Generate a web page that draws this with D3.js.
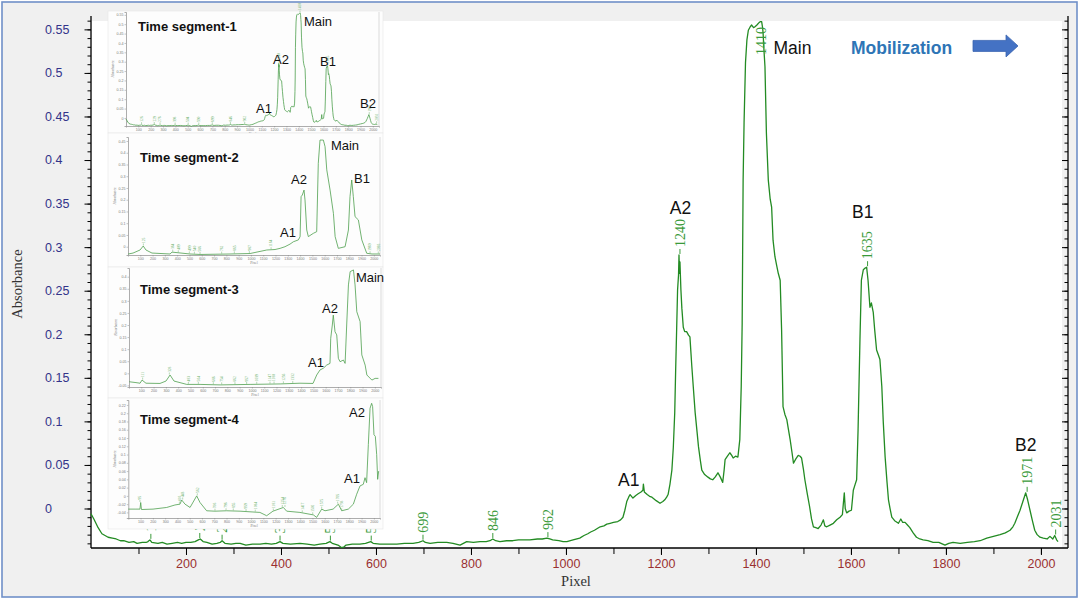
<!DOCTYPE html>
<html><head><meta charset="utf-8">
<script src="https://cdn.jsdelivr.net/npm/d3@7/dist/d3.min.js"></script>
<style>html,body{margin:0;padding:0;background:#fff;} svg{display:block}</style>
</head><body>
<svg id="chart" width="1080" height="600"></svg>
<script>
// ---------------- DATA ----------------
const mainPixel = [0,6,15,23,36,45,53,62,69,80,90,97,108,116,120,124,128,141,150,160,171,182,191,200,210,219,226,230,236,244,255,265,272,276,282,295,305,314,326,340,356,368,380,390,398,404,420,440,455,470,482,495,503,508,520,528,533,537,550,566,578,589,594,608,625,644,660,678,690,699,704,714,730,749,762,777,784,791,805,819,832,840,846,852,861,875,888,900,912,924,940,950,960,966,972,985,994,1002,1015,1029,1038,1046,1052,1060,1066,1072,1080,1086,1093,1100,1109,1115,1120,1124,1128,1132,1135,1141,1147,1152,1158,1162,1163,1165,1171,1176,1181,1190,1198,1204,1208,1212,1215,1219,1223,1226,1229,1231,1233,1235,1237,1238,1239,1240,1242,1244,1247,1250,1254,1258,1261,1263,1265,1268,1272,1276,1279,1283,1286,1292,1299,1304,1309,1314,1320,1325,1330,1333,1335,1340,1345,1349,1352,1357,1362,1366,1369,1371,1373,1375,1378,1381,1384,1388,1391,1395,1398,1402,1407,1410,1412,1414,1415,1417,1419,1422,1426,1430,1433,1436,1440,1444,1447,1451,1454,1457,1461,1465,1468,1472,1476,1479,1484,1489,1493,1496,1500,1503,1508,1513,1517,1521,1526,1531,1537,1542,1545,1549,1556,1563,1570,1577,1582,1586,1588,1591,1596,1601,1605,1609,1612,1615,1619,1622,1626,1630,1633,1636,1640,1643,1647,1650,1654,1658,1661,1665,1668,1672,1676,1679,1683,1686,1692,1700,1705,1709,1714,1719,1724,1731,1738,1745,1752,1762,1773,1785,1798,1806,1815,1830,1845,1860,1872,1886,1900,1914,1925,1935,1941,1945,1950,1956,1962,1968,1972,1977,1982,1987,1992,1998,2005,2013,2019,2025,2029,2033,2036];
const mainAbs = [-0.006,-0.012,-0.022,-0.029,-0.033,-0.034,-0.035,-0.037,-0.037,-0.039,-0.038,-0.040,-0.039,-0.039,-0.038,-0.036,-0.039,-0.040,-0.039,-0.041,-0.040,-0.039,-0.040,-0.039,-0.039,-0.038,-0.036,-0.035,-0.038,-0.039,-0.041,-0.040,-0.039,-0.037,-0.040,-0.041,-0.040,-0.040,-0.042,-0.041,-0.041,-0.040,-0.041,-0.040,-0.038,-0.040,-0.041,-0.040,-0.041,-0.042,-0.041,-0.040,-0.038,-0.040,-0.042,-0.045,-0.044,-0.042,-0.041,-0.041,-0.040,-0.038,-0.040,-0.041,-0.041,-0.041,-0.040,-0.040,-0.039,-0.037,-0.039,-0.040,-0.039,-0.039,-0.040,-0.042,-0.040,-0.038,-0.039,-0.038,-0.038,-0.037,-0.035,-0.037,-0.038,-0.037,-0.037,-0.036,-0.036,-0.036,-0.035,-0.035,-0.034,-0.035,-0.036,-0.037,-0.038,-0.038,-0.036,-0.034,-0.031,-0.029,-0.027,-0.025,-0.023,-0.021,-0.020,-0.018,-0.017,-0.016,-0.015,-0.013,-0.010,-0.002,0.008,0.013,0.016,0.012,0.015,0.017,0.019,0.021,0.028,0.019,0.016,0.014,0.013,0.009,0.006,0.008,0.010,0.013,0.016,0.028,0.044,0.070,0.110,0.160,0.205,0.251,0.268,0.291,0.270,0.283,0.251,0.230,0.208,0.203,0.203,0.199,0.197,0.180,0.163,0.140,0.110,0.088,0.071,0.055,0.044,0.039,0.036,0.034,0.033,0.036,0.041,0.036,0.030,0.044,0.056,0.060,0.064,0.061,0.058,0.060,0.059,0.079,0.140,0.213,0.377,0.443,0.512,0.538,0.549,0.553,0.555,0.552,0.553,0.555,0.558,0.559,0.559,0.552,0.546,0.525,0.507,0.431,0.377,0.355,0.346,0.308,0.289,0.278,0.270,0.262,0.205,0.117,0.108,0.102,0.092,0.079,0.064,0.052,0.057,0.061,0.060,0.058,0.045,0.033,0.017,0.002,-0.012,-0.021,-0.022,-0.023,-0.019,-0.013,-0.020,-0.021,-0.019,-0.017,-0.013,-0.010,-0.007,0.018,0.000,-0.005,-0.003,-0.002,0.021,0.028,0.033,0.090,0.194,0.262,0.274,0.276,0.277,0.262,0.231,0.236,0.225,0.205,0.182,0.176,0.171,0.140,0.100,0.059,0.030,0.010,-0.002,-0.010,-0.014,-0.017,-0.012,-0.016,-0.016,-0.019,-0.022,-0.028,-0.033,-0.035,-0.036,-0.037,-0.039,-0.039,-0.042,-0.040,-0.039,-0.040,-0.039,-0.038,-0.037,-0.034,-0.032,-0.030,-0.028,-0.025,-0.021,-0.017,-0.010,-0.002,0.008,0.018,0.010,-0.002,-0.014,-0.025,-0.030,-0.033,-0.034,-0.035,-0.032,-0.035,-0.031,-0.036,-0.038];
const mainPeakLabels = [126,229,276,398,504,590,699,846,962,1240,1410,1635,1971,2031];
const yTickLabels = ["0","0.05","0.1","0.15","0.2","0.25","0.3","0.35","0.4","0.45","0.5","0.55"];
const xTickLabels = ["200","400","600","800","1000","1200","1400","1600","1800","2000"];
const insetXTickLabels = ["100","200","300","400","500","600","700","800","900","1000","1100","1200","1300","1400","1500","1600","1700","1800","1900","2000"];

// Time segment-1 is the main trace itself
const seg1YTickLabels = yTickLabels;

const seg2Pixel = [2,41,98,124,146,195,342,358,504,586,830,993,1129,1196,1237,1277,1318,1345,1386,1400,1408,1418,1432,1440,1454,1467,1508,1535,1548,1562,1589,1603,1617,1644,1671,1685,1711,1766,1793,1806,1820,1833,1847,1874,1902,1942,1985,2050];
const seg2Abs = [-0.031,-0.027,-0.014,0.003,-0.014,-0.027,-0.031,-0.023,-0.031,-0.033,-0.031,-0.029,-0.014,-0.012,-0.007,0.000,0.011,0.021,0.029,0.043,0.213,0.220,0.241,0.199,0.071,0.043,0.057,0.064,0.355,0.454,0.454,0.426,0.327,0.241,0.142,0.043,-0.007,0.000,0.071,0.213,0.284,0.213,0.128,0.114,0.029,-0.028,-0.031,-0.031];
const seg2Markers = [125,364,409,499,540,586,762,865,987,1164,1969,2036];
const seg2YTickLabels = ["0","0.05","0.1","0.15","0.2","0.25","0.3","0.35","0.4","0.45"];

const seg3Pixel = [2,49,90,106,138,252,301,334,366,470,578,741,985,1229,1391,1497,1527,1554,1581,1608,1635,1641,1654,1662,1676,1690,1703,1717,1744,1758,1771,1785,1799,1826,1839,1853,1880,1894,1921,1935,1976,2002,2029];
const seg3Abs = [-0.035,-0.038,-0.041,-0.028,-0.041,-0.042,-0.032,-0.007,-0.032,-0.046,-0.046,-0.048,-0.046,-0.044,-0.041,-0.042,-0.007,0.014,0.021,0.034,0.041,0.145,0.200,0.241,0.172,0.159,0.062,0.048,0.055,0.041,0.200,0.366,0.421,0.428,0.366,0.255,0.214,0.076,0.034,-0.007,-0.028,-0.021,-0.021];
const seg3Markers = [111,328,483,564,686,754,862,957,1039,1147,1180,1256,1332];
const seg3YTickLabels = ["-0.05","0","0.05","0.1","0.15","0.2","0.25","0.3","0.35","0.4"];

const seg4Pixel = [0,55,95,101,107,201,313,380,421,435,462,503,557,584,638,706,801,910,1072,1127,1178,1263,1290,1398,1507,1534,1575,1602,1668,1711,1738,1792,1833,1860,1887,1914,1928,1941,1955,1969,1982,1990,2001,2012,2023,2031,2039];
const seg4Abs = [-0.032,-0.032,-0.032,-0.016,-0.033,-0.032,-0.028,-0.022,-0.020,-0.010,-0.020,-0.028,0.000,-0.016,-0.036,-0.037,-0.036,-0.037,-0.040,-0.048,-0.037,-0.028,-0.037,-0.040,-0.046,-0.052,-0.032,-0.036,-0.032,-0.020,-0.036,-0.032,-0.020,0.004,0.024,0.028,0.044,0.032,0.124,0.212,0.224,0.216,0.148,0.144,0.100,0.040,0.060];
const seg4Markers = [95,416,443,562,706,796,855,959,1034,1181,1254,1276,1417,1502,1575,1705,1738];
const seg4YTickLabels = ["-0.04","-0.02","0","0.02","0.04","0.06","0.08","0.1","0.12","0.14","0.16","0.18","0.2","0.22"];

// ---------------- DRAW ----------------
const svg = d3.select('#chart');
const SANS = "'Liberation Sans', Arial, sans-serif";
const SERIF = "'Liberation Serif', 'Times New Roman', serif";

svg.append('rect').attr('width',1080).attr('height',600).attr('fill','#ffffff');
svg.append('rect').attr('x',2).attr('y',2).attr('width',1075).attr('height',595)
  .attr('fill','#f0f0f0').attr('stroke','#7090c8').attr('stroke-width',1.6);
svg.append('rect').attr('x',92).attr('y',21).attr('width',970).attr('height',527).attr('fill','#ffffff');

const x = d3.scaleLinear().domain([0,2057]).range([91,1068]);
const y = d3.scaleLinear().domain([-0.045,0.565]).range([547.7,16.3]);

const mainData = mainPixel.map((p,i)=>[p, mainAbs[i]]);

function valueAt(data,p){
  const i = d3.bisector(d=>d[0]).left(data,p);
  if(i<=0) return data[0][1];
  if(i>=data.length) return data[data.length-1][1];
  const a=data[i-1], b=data[i];
  return a[1] + (p-a[0])/(b[0]-a[0])*(b[1]-a[1]);
}
function peakNear(data,p,w){
  let m = valueAt(data,p);
  for(const d of data){ if(Math.abs(d[0]-p)<=w && d[1]>m) m=d[1]; }
  return m;
}

// Axes
const yMinor = d3.range(-4,57).map(i=>i/100);
const yMajor = yTickLabels.map(Number);
function styleAxis(g){ g.select('.domain').remove(); g.selectAll('line').attr('stroke','#000').attr('stroke-width',1); }
const lg = svg.append('g').attr('transform','translate(91,0)');
lg.append('g').call(d3.axisLeft(y).tickValues(yMinor).tickSize(3.5).tickFormat('')).call(styleAxis);
lg.append('g').call(d3.axisLeft(y).tickValues(yMajor).tickSize(6.5).tickFormat('')).call(styleAxis);
const rg = svg.append('g').attr('transform','translate(1068,0)');
rg.append('g').call(d3.axisRight(y).tickValues(yMinor).tickSize(-3.5).tickFormat('')).call(styleAxis);
rg.append('g').call(d3.axisRight(y).tickValues(yMajor).tickSize(-6).tickFormat('')).call(styleAxis);

svg.append('g').selectAll('text').data(yTickLabels).join('text')
  .attr('x',45).attr('y',d=>y(+d)).attr('dy','0.35em')
  .attr('font-family',SANS).attr('font-size',12.5).attr('fill','#33338a').text(d=>d);

const xMinor = d3.range(100,2001,100);
const bg = svg.append('g').attr('transform','translate(0,548)');
bg.append('g').call(d3.axisBottom(x).tickValues(xMinor).tickSize(6).tickFormat('')).call(styleAxis);
const bgMaj = bg.append('g').call(d3.axisBottom(x).tickValues(xTickLabels.map(Number)).tickSize(7).tickPadding(4).tickFormat(d3.format('d')));
bgMaj.call(styleAxis);
bgMaj.selectAll('text').attr('font-family',SANS).attr('font-size',12.5).attr('fill','#9a3030');

svg.append('line').attr('x1',91).attr('x2',91).attr('y1',16).attr('y2',548).attr('stroke','#000').attr('stroke-width',1.3);
svg.append('line').attr('x1',1068).attr('x2',1068).attr('y1',16).attr('y2',548).attr('stroke','#000').attr('stroke-width',1.3);
svg.append('line').attr('x1',91).attr('x2',1068).attr('y1',548).attr('y2',548).attr('stroke','#000').attr('stroke-width',1.3);

svg.append('text').attr('x',576).attr('y',586).attr('text-anchor','middle')
  .attr('font-family',SERIF).attr('font-size',14.5).attr('fill','#333').text('Pixel');
svg.append('text').attr('transform','translate(22,284) rotate(-90)').attr('text-anchor','middle')
  .attr('font-family',SERIF).attr('font-size',14.5).attr('fill','#333').text('Absorbance');

// main trace
const line = d3.line().x(d=>x(d[0])).y(d=>y(d[1]));
svg.append('path').datum(mainData).attr('d',line).attr('fill','none')
  .attr('stroke','#238b23').attr('stroke-width',1.3).attr('stroke-linejoin','round');

// peak position labels
mainPeakLabels.forEach(p=>{
  const v = peakNear(mainData,p,4);
  const py = y(v), px = x(p);
  const t = svg.append('text').attr('font-family',SERIF).attr('font-size',14).attr('fill','#3a9a3a')
     .attr('dy','0.35em').text(String(p));
  const len = t.node().getComputedTextLength();
  let start = py - 8;
  let clamped = false;
  if(start - len < 27){ start = 27 + len; clamped = true; }
  t.attr('transform',`translate(${px},${start}) rotate(-90)`);
  if(!clamped){
    svg.append('line').attr('x1',px).attr('x2',px).attr('y1',py-1).attr('y2',py-6)
      .attr('stroke','#3a9a3a').attr('stroke-width',1);
  }
});

// ---------------- INSETS ----------------
const insets = [
  {box:[108,11,383,133], l:126, r:379, t:12, b:126, yd:[-0.043,0.565], pix:mainPixel, abs:mainAbs, markers:mainPeakLabels, yLabels:seg1YTickLabels,
   title:'Time segment-1', tx:138, ty:31, notes:[['A1',264,108],['A2',281,59],['Main',318,21],['B1',328,61],['B2',368,103]]},
  {box:[108,133,383,267], l:128, r:380, t:137, b:255, yd:[-0.0353,0.467], pix:seg2Pixel, abs:seg2Abs, markers:seg2Markers, yLabels:seg2YTickLabels,
   title:'Time segment-2', tx:140, ty:162, notes:[['A1',288,232],['A2',299,179],['Main',345,145],['B1',362,178]]},
  {box:[108,267,383,398], l:129, r:381, t:268, b:387, yd:[-0.0567,0.436], pix:seg3Pixel, abs:seg3Abs, markers:seg3Markers, yLabels:seg3YTickLabels,
   title:'Time segment-3', tx:140, ty:294, notes:[['A1',316,362],['A2',330,308],['Main',370,277]]},
  {box:[108,398,383,529], l:128.3, r:380, t:400, b:518, yd:[-0.0535,0.232], pix:seg4Pixel, abs:seg4Abs, markers:seg4Markers, yLabels:seg4YTickLabels,
   title:'Time segment-4', tx:140, ty:424, notes:[['A1',352,478],['A2',357,412]]}
];

insets.forEach(o=>{
  const g = svg.append('g');
  g.append('rect').attr('x',o.box[0]).attr('y',o.box[1]).attr('width',o.box[2]-o.box[0]).attr('height',o.box[3]-o.box[1])
    .attr('fill','#fdfdfd').attr('stroke','#e6e6e6').attr('stroke-width',0.6);
  const ix = d3.scaleLinear().domain([0,2050]).range([o.l,o.r]);
  const iy = d3.scaleLinear().domain(o.yd).range([o.b,o.t]);
  const ax = g.append('g').attr('transform',`translate(0,${o.b})`)
    .call(d3.axisBottom(ix).tickValues(insetXTickLabels.map(Number)).tickSize(1.5).tickPadding(1).tickFormat(d3.format('d')));
  const ay = g.append('g').attr('transform',`translate(${o.l},0)`)
    .call(d3.axisLeft(iy).tickValues(o.yLabels.map(Number)).tickSize(1.5).tickPadding(1).tickFormat((d,i)=>o.yLabels[i]));
  [ax,ay].forEach(a=>{
    a.select('.domain').attr('stroke','#8a8a8a').attr('stroke-width',0.7);
    a.selectAll('line').attr('stroke','#8a8a8a').attr('stroke-width',0.5);
    a.selectAll('text').attr('font-size',3.6).attr('font-family',SANS).attr('fill','#7a7a7a');
  });
  g.append('line').attr('x1',o.r).attr('x2',o.r).attr('y1',o.t).attr('y2',o.b).attr('stroke','#c8c8c8').attr('stroke-width',0.6);
  g.append('text').attr('x',(o.l+o.r)/2).attr('y',o.b+9).attr('text-anchor','middle')
    .attr('font-family',SERIF).attr('font-size',3.6).attr('fill','#7a7a7a').text('Pixel');
  g.append('text').attr('transform',`translate(${o.l-12},${(o.t+o.b)/2}) rotate(-90)`).attr('text-anchor','middle')
    .attr('font-family',SERIF).attr('font-size',3.6).attr('fill','#7a7a7a').text('Absorbance');
  const data = o.pix.map((p,i)=>[p,o.abs[i]]);
  g.append('path').datum(data).attr('fill','none').attr('stroke','#4e9f4e').attr('stroke-width',0.8)
    .attr('d', d3.line().x(d=>ix(d[0])).y(d=>iy(d[1])));
  o.markers.forEach(p=>{
    const v = peakNear(data,p,15);
    const py = iy(v), px = ix(p);
    g.append('line').attr('x1',px).attr('x2',px).attr('y1',py-0.5).attr('y2',py-2.5).attr('stroke','#6ab06a').attr('stroke-width',0.5);
    g.append('text').attr('transform',`translate(${px},${py-3}) rotate(-90)`).attr('dy','0.35em')
      .attr('font-family',SERIF).attr('font-size',3.6).attr('fill','#6ab06a').text(String(p));
  });
  g.append('text').attr('x',o.tx).attr('y',o.ty).attr('font-family',SANS).attr('font-weight','bold')
    .attr('font-size',13).attr('fill','#111').text(o.title);
  o.notes.forEach(n=>{
    g.append('text').attr('x',n[1]).attr('y',n[2]).attr('text-anchor','middle').attr('dy','0.35em')
      .attr('font-family',SANS).attr('font-size',13).attr('fill','#111').text(n[0]);
  });
});

// ---------------- ANNOTATIONS (main) ----------------
const notes = [['A1',1132,0.033],['A2',1241,0.3456],['Main',1477,0.5285],['B1',1625,0.34],['B2',1968,0.073]];
notes.forEach(n=>{
  svg.append('text').attr('x',x(n[1])).attr('y',y(n[2])).attr('text-anchor','middle').attr('dy','0.35em')
    .attr('font-family',SANS).attr('font-size',17.5).attr('fill','#111').text(n[0]);
});
svg.append('text').attr('x',851).attr('y',y(0.529)).attr('dy','0.35em')
  .attr('font-family',SANS).attr('font-weight','bold').attr('font-size',17.5).attr('fill','#2e75b6').text('Mobilization');
const ay0 = y(0.531);
svg.append('path')
  .attr('d',`M973,${ay0-5.5} L1006,${ay0-5.5} L1006,${ay0-11} L1018,${ay0} L1006,${ay0+11} L1006,${ay0+5.5} L973,${ay0+5.5} Z`)
  .attr('fill','#4472c4').attr('stroke','#3a64b0').attr('stroke-width',0.8);
</script>
</body></html>
